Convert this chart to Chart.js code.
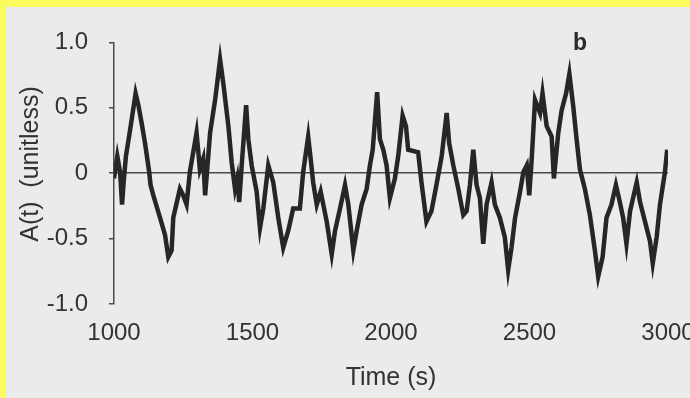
<!DOCTYPE html>
<html>
<head>
<meta charset="utf-8">
<script src="https://cdn.jsdelivr.net/npm/chart.js@4"></script>
<style>
  html, body { margin: 0; padding: 0; width: 690px; height: 398px; overflow: hidden; background: #fbfb5e; }
  #paper { position: absolute; left: 6px; top: 7px; width: 700px; height: 391px; background: #ebebeb; overflow: hidden; }
  #c { display: block; }
</style>
</head>
<body>
<div id="paper"><canvas id="c" width="700" height="391"></canvas></div>
<script>
// ---- data ----
const times = [1000,1012,1022,1029,1036,1043,1058,1078,1088,1100,1112,1127,1132,1142,1166,1184,1196,1208,1214,1238,1250,1262,1274,1298,1310,1322,1329,1347,1365,1383,1395,1413,1425,1437,1445,1452,1461,1477,1485,1497,1515,1527,1539,1557,1575,1593,1611,1629,1647,
  1671,1683,1701,1710,1719,1732,1746,1768,1786,1798,1816,1834,1846,1864,1876,1894,1912,1924,1934,1950,1960,1972,1984,1996,2014,2026,2042,2054,2062,2098,2110,2128,2146,2164,2183,2201,2210,2225,2243,2261,2273,2285,2297,2309,2321,
  2333,2345,2363,2375,2393,2411,2423,2435,2448,2466,2478,2490,2499,2508,2520,2538,2547,2562,2580,2588,2604,2616,2632,2644,2658,2670,2682,2700,2718,2736,2748,2764,2778,2796,2812,2826,2838,2850,2863,2887,2899,2917,2935,2945,2959,2971,2989,2997];
const amplitude = [-0.04,0.13,0.01,-0.24,-0.04,0.13,0.33,0.61,0.52,0.38,0.23,0.01,-0.09,-0.17,-0.34,-0.47,-0.64,-0.59,-0.34,-0.12,-0.17,-0.24,0.01,0.31,0.03,0.11,-0.17,0.31,0.56,0.87,0.68,0.36,0.08,-0.12,-0.04,-0.22,0.06,0.52,0.26,0.06,-0.14,-0.42,-0.27,0.06,-0.07,-0.34,-0.57,-0.44,-0.27,
  -0.27,0.01,0.28,0.11,-0.07,-0.24,-0.14,-0.37,-0.62,-0.44,-0.27,-0.09,-0.24,-0.59,-0.44,-0.24,-0.12,0.06,0.18,0.62,0.26,0.18,0.06,-0.19,-0.04,0.13,0.44,0.36,0.18,0.16,-0.07,-0.37,-0.29,-0.09,0.13,0.46,0.23,0.06,-0.12,-0.32,-0.29,-0.09,0.18,-0.09,-0.19,
  -0.54,-0.24,-0.07,-0.24,-0.34,-0.49,-0.74,-0.57,-0.34,-0.14,0.01,0.06,-0.17,0.11,0.56,0.46,0.61,0.36,0.28,-0.04,0.31,0.48,0.61,0.76,0.51,0.26,0.03,-0.12,-0.32,-0.59,-0.79,-0.64,-0.34,-0.24,-0.09,-0.22,-0.34,-0.54,-0.29,-0.07,-0.22,-0.37,-0.52,-0.69,-0.49,-0.24,0.01,0.18];
const xTickValues = [1000, 1500, 2000, 2500, 3000];
const xTickLabels = ['1000', '1500', '2000', '2500', '3000'];
const yTickValues = [-1, -0.5, 0, 0.5, 1];
const yTickLabels = ['-1.0', '-0.5', '0', '0.5', '1.0'];
const xTitle = 'Time (s)';
const yTitle = 'A(t)  (unitless)';
const panelLabel = 'b';

const points = times.map((t, i) => ({ x: t, y: amplitude[i] }));
const ink = '#262626';
const axisInk = '#4a4a4a';
const font = 'Liberation Sans, Arial, sans-serif';

const annotate = {
  id: 'annotate',
  afterDraw(chart) {
    const ctx = chart.ctx;
    const area = chart.chartArea;
    ctx.save();
    ctx.fillStyle = '#333';
    ctx.font = '25px ' + font;
    ctx.textAlign = 'center';
    ctx.textBaseline = 'middle';
    ctx.translate(25, 157);
    ctx.rotate(-Math.PI / 2);
    ctx.fillText(yTitle, 0, 0);
    ctx.restore();
    ctx.save();
    ctx.fillStyle = '#2a2a2a';
    ctx.font = 'bold 23px ' + font;
    ctx.textAlign = 'center';
    ctx.textBaseline = 'alphabetic';
    const xs = chart.scales.x;
    ctx.fillText(panelLabel, xs.getPixelForValue(2682), area.top + 7.5);
    ctx.restore();
  }
};

new Chart(document.getElementById('c'), {
  type: 'line',
  data: {
    datasets: [{
      data: points,
      borderColor: ink,
      borderWidth: 4.5,
      pointRadius: 0,
      tension: 0,
      borderJoinStyle: 'miter',
      fill: false
    }]
  },
  options: {
    responsive: false,
    animation: false,
    layout: { padding: { left: 0, top: 30.5, right: 38, bottom: 0 } },
    plugins: { legend: { display: false }, tooltip: { enabled: false } },
    scales: {
      x: {
        type: 'linear',
        min: 1000, max: 3000,
        afterBuildTicks(scale) { scale.ticks = xTickValues.map(v => ({ value: v })); },
        afterFit(scale) { scale.height = 94; },
        grid: { display: false },
        border: { display: false },
        ticks: {
          color: '#333',
          font: { family: font, size: 24 },
          padding: 7,
          maxRotation: 0,
          autoSkip: false,
          callback: (v) => xTickLabels[xTickValues.indexOf(v)]
        },
        title: {
          display: true,
          text: xTitle,
          color: '#333',
          font: { family: font, size: 25 },
          padding: { top: 4, bottom: 5 }
        }
      },
      y: {
        type: 'linear',
        min: -1, max: 1,
        afterBuildTicks(scale) { scale.ticks = yTickValues.map(v => ({ value: v })); },
        afterFit(scale) { scale.width = 108; },
        grid: {
          color: (c) => (c.tick && c.tick.value === 0) ? axisInk : 'rgba(0,0,0,0)',
          lineWidth: 1.5,
          tickColor: axisInk,
          tickLength: 5,
          drawTicks: true
        },
        border: { display: true, color: axisInk, width: 1.5 },
        ticks: {
          color: '#333',
          font: { family: font, size: 24 },
          padding: 21,
          autoSkip: false,
          callback: (v) => yTickLabels[yTickValues.indexOf(v)]
        }
      }
    }
  },
  plugins: [annotate]
});
</script>
</body>
</html>
